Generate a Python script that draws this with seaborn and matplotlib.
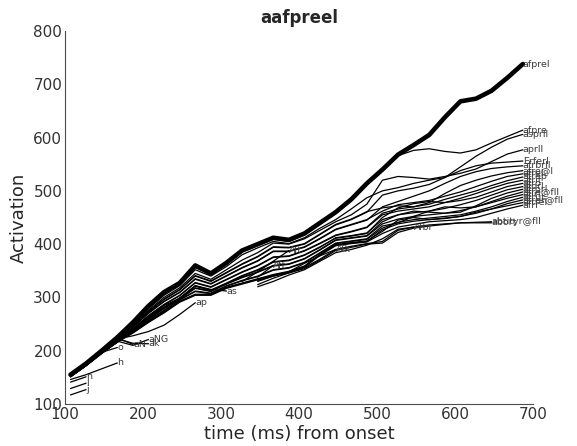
import matplotlib
matplotlib.use("Agg")
import matplotlib.pyplot as plt
import seaborn as sns
import pandas as pd

# time grid (ms)
times = [107, 127, 147, 167, 187, 207, 227, 247, 267, 287, 307, 327, 347, 367, 387,
         407, 427, 447, 467, 487, 507, 527, 547, 567, 587, 607, 627, 647, 667, 687]

# target word (thick line)
target_label = "afprel"
target_vals = [155, 176, 200, 225, 253, 284, 310, 327, 360, 345, 365, 388, 400, 412, 408,
               420, 440, 460, 484, 514, 540, 568, 586, 605, 638, 668, 673, 688, 712, 738]

# competitor words: values start at the given index of the time grid
n_vals = [141, 151]
l_vals = [129, 139]
j_vals = [117, 127]
h_vals = [146, 155, 166, 177]
o_vals = [153, 174, 197, 206]
aN_vals = [154, 176, 200, 224, 212]
ak_vals = [175, 199, 222, 214, 213]
aNG_vals = [176, 200, 218, 210, 221]
ap_vals = [222, 228, 236, 248, 268, 290]
as_vals = [223, 240, 262, 285, 298, 322, 315, 312]
Aff_vals = [338, 360]
Aft_vals = [330, 348, 368, 388]
Afk_vals = [330, 340, 348, 364, 378, 390]
Afbr_vals = [320, 330, 342, 352, 368, 384, 390, 398, 410, 428, 432]
abort_vals = [324, 336, 346, 356, 372, 390, 396, 401, 405, 426, 432, 436, 438,
              440, 440, 440]
abtityr_vals = [332, 340, 346, 354, 370, 388, 394, 400, 402, 422, 430, 434, 437,
                440, 441, 442]
afpre_vals = [154, 175, 199, 224, 251, 282, 307, 325, 356, 343, 362, 385, 397, 409, 405,
              417, 437, 457, 481, 511, 537, 566, 576, 579, 574, 571, 577, 590, 602, 614]
asprll_vals = [153, 174, 198, 222, 249, 279, 304, 322, 352, 340, 358, 380, 393, 405, 401,
               412, 430, 446, 466, 487, 500, 506, 514, 520, 525, 545, 565, 582, 597, 606]
aprll_vals = [153, 174, 198, 221, 248, 276, 300, 318, 345, 334, 352, 370, 384, 402, 400,
              410, 426, 442, 455, 475, 520, 527, 525, 522, 527, 533, 541, 555, 569, 577]
Erferl_vals = [152, 173, 197, 220, 246, 273, 296, 314, 340, 330, 346, 362, 376, 394, 393,
               400, 418, 436, 446, 460, 492, 500, 505, 512, 525, 538, 547, 552, 554, 556]
afrbrll_vals = [152, 173, 196, 219, 244, 270, 292, 309, 334, 325, 340, 355, 368, 386, 386,
                394, 410, 427, 436, 445, 470, 480, 490, 500, 514, 527, 536, 542, 545, 547]
c1_vals = [153, 174, 197, 220, 247, 274, 297, 315, 341, 331, 347, 363, 377, 395, 394,
           401, 419, 437, 447, 461, 468, 472, 470, 478, 495, 510, 520, 528, 534, 538]
c2_vals = [153, 173, 197, 219, 245, 271, 293, 310, 335, 326, 341, 356, 369, 387, 387,
           395, 411, 428, 437, 446, 462, 474, 478, 482, 490, 498, 508, 518, 527, 532]
c3_vals = [152, 173, 196, 218, 242, 266, 287, 304, 328, 320, 334, 348, 360, 376, 378,
           388, 402, 417, 424, 432, 458, 466, 470, 475, 484, 492, 500, 510, 519, 526]
c4_vals = [151, 172, 196, 218, 241, 265, 286, 303, 327, 319, 333, 347, 359, 375, 377,
           387, 401, 416, 423, 431, 455, 462, 466, 470, 478, 486, 495, 505, 514, 520]
c5_vals = [152, 172, 195, 217, 240, 263, 282, 299, 322, 314, 327, 341, 352, 367, 370,
           380, 395, 411, 415, 420, 450, 468, 476, 480, 478, 482, 488, 498, 508, 514]
c6_vals = [151, 172, 195, 217, 239, 262, 281, 298, 321, 313, 326, 340, 351, 366, 369,
           379, 394, 412, 416, 421, 446, 455, 459, 462, 467, 474, 482, 492, 502, 508]
c7_vals = [151, 172, 195, 216, 238, 260, 280, 298, 318, 312, 326, 338, 348, 360, 363,
           373, 390, 408, 412, 416, 442, 455, 462, 460, 458, 460, 472, 486, 496, 503]
c8_vals = [152, 172, 195, 216, 237, 259, 279, 297, 317, 311, 325, 337, 347, 359, 362,
           372, 389, 407, 411, 415, 438, 447, 452, 455, 458, 463, 470, 480, 490, 498]
c9_vals = [196, 216, 236, 257, 276, 296, 312, 308, 322, 332, 340, 352, 356,
           366, 384, 402, 406, 410, 434, 440, 452, 462, 470, 468, 470, 478, 486, 493]
c10_vals = [196, 216, 235, 256, 275, 295, 311, 307, 321, 331, 339, 351, 355,
            365, 383, 401, 405, 409, 430, 441, 446, 449, 452, 455, 462, 470, 480, 488]
c11_vals = [217, 234, 254, 272, 292, 305, 305, 318, 326, 334, 342, 348,
            358, 380, 398, 402, 405, 427, 438, 443, 446, 449, 452, 458, 466, 476, 483]
c12_vals = [217, 235, 255, 273, 293, 306, 306, 319, 327, 335, 343, 349,
            359, 381, 399, 403, 406, 424, 445, 450, 446, 448, 452, 460, 466, 472, 478]
c13_vals = [216, 233, 253, 271, 291, 304, 304, 317, 325, 333, 341, 347,
            357, 379, 397, 401, 404, 420, 432, 437, 442, 444, 446, 450, 458, 466, 473]

competitors = [
    ("n", 0, n_vals), ("l", 0, l_vals), ("j", 0, j_vals), ("h", 0, h_vals),
    ("o", 0, o_vals), ("aN", 0, aN_vals), ("ak", 1, ak_vals), ("aNG", 1, aNG_vals),
    ("ap", 3, ap_vals), ("as", 3, as_vals), ("Aff", 12, Aff_vals), ("Aft", 11, Aft_vals),
    ("Afk", 12, Afk_vals), ("Afbr", 12, Afbr_vals), ("abort", 12, abort_vals),
    ("abtityr@fll", 12, abtityr_vals),
    ("afpre", 0, afpre_vals), ("asprll", 0, asprll_vals), ("aprll", 0, aprll_vals),
    ("Erferl", 0, Erferl_vals), ("afrbrll", 0, afrbrll_vals),
    ("afre@l", 0, c1_vals), ("afrel", 0, c2_vals), ("afrep", 0, c3_vals),
    ("afrit", 0, c4_vals), ("afro", 0, c5_vals), ("aforl", 0, c6_vals),
    ("afrorl", 0, c7_vals), ("afre@fll", 0, c8_vals), ("aflrl", 2, c9_vals),
    ("afrut", 2, c10_vals), ("afrer@fll", 3, c11_vals), ("aftrel", 3, c12_vals),
    ("afrr", 3, c13_vals),
]

rows = []
for lab, st, vals in competitors:
    for i, v in enumerate(vals):
        rows.append({"word": lab, "t": times[st + i], "act": v})
df = pd.DataFrame(rows)
df_target = pd.DataFrame({"word": target_label, "t": times, "act": target_vals})

sns.set_style("white")
plt.rcParams["font.family"] = ["DejaVu Sans"]

fig = plt.figure(figsize=(5.77, 4.46), dpi=100)
ax = fig.add_axes([0.1127, 0.0942, 0.8110, 0.8363])

sns.lineplot(data=df, x="t", y="act", units="word", estimator=None, color="black",
             lw=0.9, ax=ax, legend=False, sort=False)
sns.lineplot(data=df_target, x="t", y="act", color="black", lw=3.3, ax=ax,
             legend=False, sort=False)

lab_color = "#3a3a3a"
for lab, st, vals in competitors:
    ax.text(times[st + len(vals) - 1], vals[-1], lab, fontsize=6.8, color=lab_color,
            ha="left", va="center")
ax.text(times[-1], target_vals[-1], target_label, fontsize=6.8, color=lab_color,
        ha="left", va="center")

ax.set_xlim(100, 700)
ax.set_ylim(100, 800)
ax.set_xticks([100, 200, 300, 400, 500, 600, 700])
ax.set_yticks([100, 200, 300, 400, 500, 600, 700, 800])
ax.set_xlabel("time (ms) from onset", fontsize=13, color="#262626", labelpad=2)
ax.set_ylabel("Activation", fontsize=13, color="#262626", labelpad=4)
ax.set_title("aafpreel", fontsize=12, fontweight="bold", pad=6)
sns.despine(ax=ax)
for s in ["left", "bottom"]:
    ax.spines[s].set_color("#4d4d4d")
    ax.spines[s].set_linewidth(0.8)
ax.tick_params(direction="in", length=5, width=0.8, color="#4d4d4d",
               labelsize=11, labelcolor="#333333", pad=2)

fig.savefig("out.png", dpi=100)
